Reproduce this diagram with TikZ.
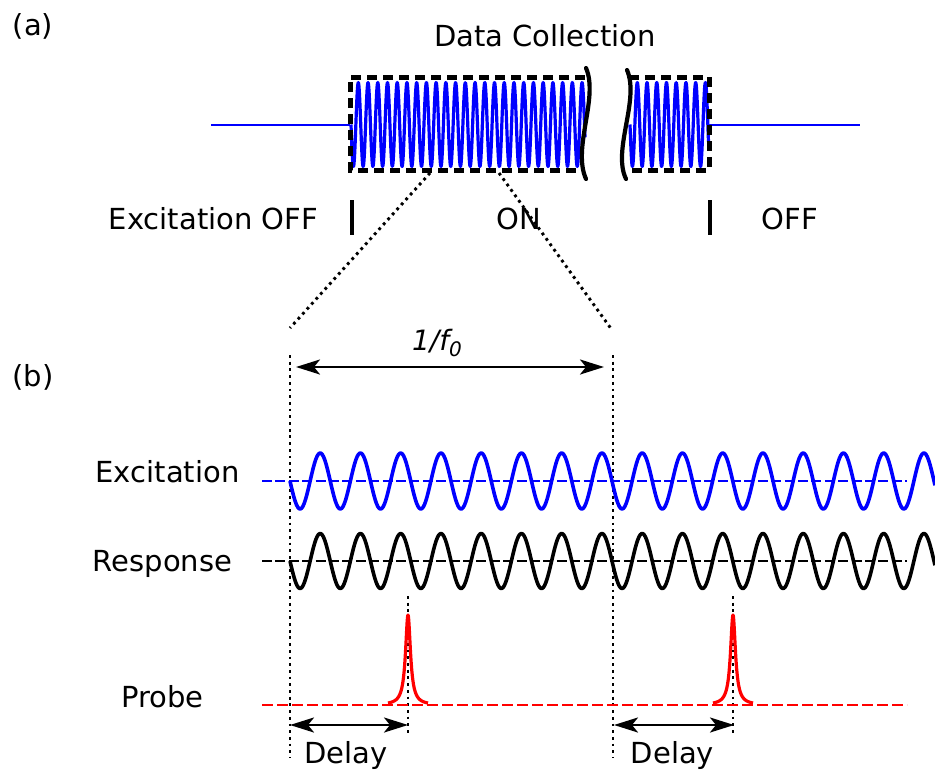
\documentclass[tikz,border=0pt]{standalone}
\usepackage{fontspec}
\setmainfont{DejaVu Sans}
\usetikzlibrary{arrows.meta}
\begin{document}
\begin{tikzpicture}[x=1pt,y=-1pt,
  lbl/.style={anchor=base, inner sep=0pt, font=\fontsize{29}{34}\selectfont},
  coilwave/.style={blue, line width=3.2pt, line join=round},
  wave/.style={line width=3.6pt, line join=round},
  dotline/.style={line width=2.9pt, dash pattern=on 2.8pt off 3.9pt},
  centerline/.style={line width=2pt, dash pattern=on 10pt off 3.4pt},
  framedash/.style={line width=5pt, dash pattern=on 10pt off 6pt},
  breakline/.style={line width=4.2pt, line cap=round},
  tickline/.style={line width=3.4pt},
  dimarrow/.style={line width=2.6pt, {Stealth[length=24pt,width=15pt,inset=6pt]}-{Stealth[length=24pt,width=15pt,inset=6pt]}},
]
\useasboundingbox[fill=white] (0,0) rectangle (935,772);

% ---------- labels ----------
\node[lbl] (a) at (33,35) {(a)};
\node[lbl] (title) at (545,46) {Data Collection};
\node[lbl] (exoff) at (213.5,229) {Excitation OFF};
\node[lbl] (on) at (519,229) {ON};
\node[lbl] (off) at (790,229) {OFF};
\node[lbl] (b) at (33,386) {(b)};
\node[lbl] (exc) at (167.5,482) {Excitation};
\node[lbl] (resp) at (162.5,571) {Response};
\node[lbl] (probe) at (162.5,707) {Probe};
\node[lbl] (d1) at (346,763) {Delay};
\node[lbl] (d2) at (672.5,763) {Delay};
\node[anchor=base, inner sep=0pt, font=\fontsize{28}{33}\selectfont\itshape] (f0) at (437,350) {1/f\raisebox{-6pt}{\fontsize{20}{23}\selectfont 0}};

% ---------- (a) data collection ----------
\coordinate (lineL0) at (211,125);
\coordinate (lineL1) at (350,125);
\coordinate (lineR0) at (709,125);
\coordinate (lineR1) at (860,125);
\draw[blue, line width=2.6pt] (lineL0) -- (lineL1);
\draw[blue, line width=2.6pt] (lineR0) -- (lineR1);

\draw[coilwave] plot[domain=351:585, samples=700] (\x,{124.5+42*sin(36.999*(\x-351))});
\draw[coilwave] plot[domain=630:708.5, samples=260] (\x,{124.5+42*sin(36.999*(\x-630))});

% dashed frame
\coordinate (fL1) at (585,77);
\coordinate (fL2) at (350,77);
\coordinate (fL3) at (350,170);
\coordinate (fL4) at (585,170);
\coordinate (fR1) at (629,77);
\coordinate (fR2) at (709,77);
\coordinate (fR3) at (709,170);
\coordinate (fR4) at (629,170);
\draw[framedash] (fL1) -- (fL2) -- (fL3) -- (fL4);
\draw[framedash] (fR1) -- (fR2) -- (fR3) -- (fR4);

% break lines
\coordinate (brL0) at (586,68);
\coordinate (brL1) at (586,179);
\coordinate (brR0) at (627,70);
\coordinate (brR1) at (626,179);
\draw[breakline] (brL0) .. controls (599,98) and (572,148) .. (brL1);
\draw[breakline] (brR0) .. controls (640,100) and (612,150) .. (brR1);

% tick marks
\coordinate (t1a) at (352,200);
\coordinate (t1b) at (352,235);
\coordinate (t2a) at (710,200);
\coordinate (t2b) at (710,235);
\draw[tickline] (t1a) -- (t1b);
\draw[tickline] (t2a) -- (t2b);

% zoom lines
\coordinate (zA0) at (430,173);
\coordinate (zA1) at (290,328);
\coordinate (zB0) at (499,173);
\coordinate (zB1) at (612,330);
\draw[dotline] (zA0) -- (zA1);
\draw[dotline] (zB0) -- (zB1);

% ---------- (b) ----------
\coordinate (v1a) at (290,355);
\coordinate (v1b) at (290,758);
\coordinate (v2a) at (613,355);
\coordinate (v2b) at (613,758);
\draw[dotline] (v1a) -- (v1b);
\draw[dotline] (v2a) -- (v2b);

\coordinate (p1a) at (408,596);
\coordinate (p1b) at (408,736);
\coordinate (p2a) at (733,596);
\coordinate (p2b) at (733,736);
\draw[dotline] (p1a) -- (p1b);
\draw[dotline] (p2a) -- (p2b);

% period arrow
\coordinate (fa) at (296,367);
\coordinate (fb) at (604,367);
\draw[dimarrow] (fa) -- (fb);

% center lines
\coordinate (ce0) at (262,481);
\coordinate (ce1) at (907,481);
\coordinate (cr0) at (262,561);
\coordinate (cr1) at (907,561);
\coordinate (cp0) at (262,705);
\coordinate (cp1) at (907,705);
\draw[centerline, blue] (ce0) -- (ce1);
\draw[centerline, black] (cr0) -- (cr1);
\draw[red, line width=2pt, dash pattern=on 11pt off 4pt] (cp0) -- (cp1);

% waves
\draw[wave, blue] plot[domain=290:935, samples=500] (\x,{481+28*sin(8.9441*(\x-290))});
\draw[wave, black] plot[domain=290:935, samples=500] (\x,{561+27.5*sin(8.9441*(\x-290))});

% probe pulses
\draw[wave, red, line width=3.2pt] plot[domain=388:428, samples=240] (\x,{705-90/(1+((\x-408)/3)^2)});
\draw[wave, red, line width=3.2pt] plot[domain=713:753, samples=240] (\x,{705-90/(1+((\x-733)/3)^2)});

% delay arrows
\coordinate (da0) at (290,725);
\coordinate (da1) at (408,725);
\coordinate (db0) at (614,725);
\coordinate (db1) at (734,725);
\draw[dimarrow] (da0) -- (da1);
\draw[dimarrow] (db0) -- (db1);
\end{tikzpicture}
\end{document}
